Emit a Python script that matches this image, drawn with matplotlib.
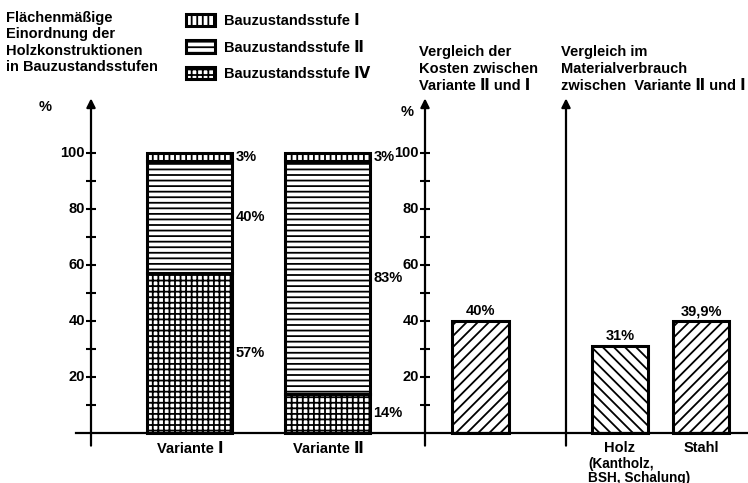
import numpy as np
import matplotlib.pyplot as plt

# Daten
varianten = ['Variante Ⅰ', 'Variante Ⅱ']
stufe_IV = [57, 14]
stufe_II = [40, 83]
stufe_I = [3, 3]
kosten = [40]
kosten_labels = ['40%']
material = ['Holz', 'Stahl']
material_werte = [31, 39.9]
material_labels = ['31%', '39,9%']
ticks = [10, 20, 30, 40, 50, 60, 70, 80, 90, 100]
tick_labels = ['', '20', '', '40', '', '60', '', '80', '', '100']

W, H = 748, 483
plt.rcParams['font.family'] = ['Liberation Sans', 'DejaVu Sans']
plt.rcParams['font.weight'] = 'bold'
plt.rcParams['font.size'] = 10.5
plt.rcParams['hatch.linewidth'] = 1.3

fig = plt.figure(figsize=(W / 100, H / 100), dpi=100)
ax = fig.add_axes([0, 0, 1, 1])
# x in Pixeln, y in Prozent (Nulllinie bei y=433 px, 2.8 px pro %)
ax.set_xlim(0, W)
ax.set_ylim(-(H - 433) / 2.8, 433 / 2.8)
ax.axis('off')

def px(x, y):
    return x / W, 1 - y / H

# Achsen
for xa in [91, 425, 566]:
    ax.annotate('', xy=(xa, 120.5), xytext=(xa, -5.5),
                arrowprops=dict(arrowstyle='-|>', lw=1.6, color='k', mutation_scale=13))
ax.axhline(0, xmin=76 / W, xmax=1, color='k', lw=1.6)
for xa in [91, 425]:
    ax.plot(np.full(len(ticks), xa), ticks, ls='none', marker='_', ms=7, mew=1.5, color='k')
    for t, lab in zip(ticks, tick_labels):
        ax.text(xa - 6, t, lab, ha='right', va='center')
ax.text(45, 116.4, '%', ha='center', va='center')
ax.text(407, 114.6, '%', ha='center', va='center')

# Gestapelte Balken
xv = [190, 328]
bw = 85
b4 = ax.bar(xv, stufe_IV, bw, color='white', edgecolor='k', lw=2.2, hatch='+++')
b2 = ax.bar(xv, stufe_II, bw, bottom=stufe_IV, color='white', edgecolor='k', lw=2.2, hatch='---')
bot = np.add(stufe_IV, stufe_II)
b1 = ax.bar(xv, stufe_I, bw, bottom=bot, color='white', edgecolor='k', lw=2.2, hatch='|||')
for serie, unten in [(stufe_IV, [0, 0]), (stufe_II, stufe_IV), (stufe_I, bot)]:
    for x, v, u in zip(xv, serie, unten):
        ax.text(x + bw / 2 + 3, u + v / 2, f'{v}%', ha='left', va='center')
for x, lab in zip(xv, varianten):
    ax.text(x, -3.2, lab, ha='center', va='top')

# Kosten
kb = ax.bar([481], kosten, 57, color='white', edgecolor='k', lw=2.2, hatch='///')
ax.bar_label(kb, labels=kosten_labels, padding=2)

# Materialverbrauch
xm = [620, 701]
mb = ax.bar(xm, material_werte, 56, color='white', edgecolor='k', lw=2.2)
mb[0].set_hatch('\\\\\\')
mb[1].set_hatch('///')
ax.bar_label(mb, labels=material_labels, padding=2)
for x, lab in zip(xm, material):
    ax.text(x, -3.0, lab, ha='center', va='top')
ax.text(588, -8.6, '(Kantholz,\nBSH, Schalung)', ha='left', va='top',
        linespacing=0.95, fontsize=9.8)

# Legende
ax.legend([b1[0], b2[0], b4[0]],
          ['Bauzustandsstufe Ⅰ', 'Bauzustandsstufe Ⅱ', 'Bauzustandsstufe Ⅳ'],
          loc='upper left', bbox_to_anchor=px(186, 14), frameon=False,
          handlelength=2.0, handleheight=0.9, labelspacing=0.85, handletextpad=0.6,
          borderaxespad=0, borderpad=0)

# Texte oben
fig.text(*px(6, 11), 'Flächenmäßige\nEinordnung der\nHolzkonstruktionen\nin Bauzustandsstufen',
         ha='left', va='top', linespacing=1.22)
fig.text(*px(419, 45), 'Vergleich der\nKosten zwischen\nVariante Ⅱ und Ⅰ',
         ha='left', va='top', linespacing=1.25)
fig.text(*px(561, 45), 'Vergleich im\nMaterialverbrauch\nzwischen  Variante Ⅱ und Ⅰ',
         ha='left', va='top', linespacing=1.25)

fig.savefig('out.png', dpi=100)
